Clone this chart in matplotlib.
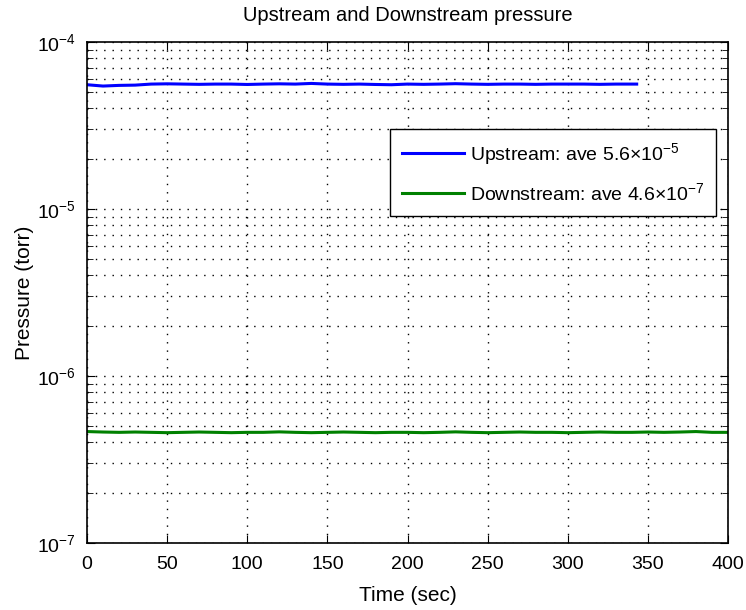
import numpy as np
import matplotlib
matplotlib.use('Agg')
import matplotlib.pyplot as plt
from matplotlib.ticker import LogLocator, NullFormatter, MultipleLocator

plt.rcParams['font.family'] = ['Liberation Sans', 'DejaVu Sans']
plt.rcParams['mathtext.fontset'] = 'custom'
plt.rcParams['mathtext.rm'] = 'Liberation Sans'
plt.rcParams['mathtext.it'] = 'Liberation Sans'

# upstream pressure (torr), sampled every 10 s up to ~343 s
up_time = [0, 10, 20, 30, 40, 50, 60, 70, 80, 90, 100, 110, 120, 130, 140,
           150, 160, 170, 180, 190, 200, 210, 220, 230, 240, 250, 260, 270,
           280, 290, 300, 310, 320, 330, 343]
up_pres = [5.55e-5, 5.45e-5, 5.5e-5, 5.52e-5, 5.6e-5, 5.62e-5, 5.6e-5, 5.58e-5,
           5.6e-5, 5.6e-5, 5.57e-5, 5.6e-5, 5.62e-5, 5.6e-5, 5.65e-5,
           5.6e-5, 5.58e-5, 5.6e-5, 5.57e-5, 5.55e-5, 5.6e-5, 5.58e-5, 5.6e-5,
           5.63e-5, 5.6e-5, 5.58e-5, 5.6e-5, 5.6e-5, 5.58e-5, 5.6e-5,
           5.6e-5, 5.6e-5, 5.58e-5, 5.6e-5, 5.6e-5]

# downstream pressure (torr), sampled every 10 s up to 400 s
down_time = list(range(0, 401, 10))
down_pres = [4.65e-7, 4.62e-7, 4.6e-7, 4.62e-7, 4.6e-7, 4.58e-7, 4.6e-7, 4.62e-7,
             4.6e-7, 4.58e-7, 4.6e-7, 4.6e-7, 4.63e-7, 4.6e-7, 4.58e-7, 4.6e-7,
             4.62e-7, 4.6e-7, 4.58e-7, 4.6e-7, 4.6e-7, 4.58e-7, 4.6e-7, 4.63e-7,
             4.6e-7, 4.58e-7, 4.6e-7, 4.62e-7, 4.6e-7, 4.6e-7, 4.58e-7, 4.6e-7,
             4.62e-7, 4.6e-7, 4.6e-7, 4.62e-7, 4.6e-7, 4.62e-7, 4.65e-7, 4.6e-7,
             4.6e-7]

up_label = r'Upstream: ave 5.6$\times$10$^{-5}$'
down_label = r'Downstream: ave 4.6$\times$10$^{-7}$'

fig = plt.figure(figsize=(7.46, 6.1), dpi=100)
ax = fig.add_axes([0.1166, 0.1098, 0.8593, 0.8213])

ax.plot(up_time, up_pres, color=(0, 0, 1), linewidth=2.2, label=up_label)
ax.plot(down_time, down_pres, color=(0, 0.5, 0), linewidth=2.2, label=down_label)

ax.set_yscale('log')
ax.set_xlim(0, 400)
ax.set_ylim(1e-7, 1e-4)
ax.xaxis.set_major_locator(MultipleLocator(50))
ax.yaxis.set_major_locator(LogLocator(base=10))
ax.yaxis.set_minor_locator(LogLocator(base=10, subs=np.arange(2, 10)))
ax.yaxis.set_minor_formatter(NullFormatter())

dots = (0, (1, 5))
ax.grid(True, which='major', linestyle=dots, color='black', linewidth=1.0)
ax.grid(True, which='minor', axis='y', linestyle=dots, color='black', linewidth=1.0)

ax.tick_params(which='both', direction='in', top=True, right=True, labelsize=14)
ax.tick_params(axis='x', which='major', pad=9)
ax.tick_params(axis='y', which='major', pad=8)
ax.tick_params(which='major', length=6)
ax.tick_params(which='minor', length=4)
for s in ax.spines.values():
    s.set_linewidth(1.2)

ax.set_title('Upstream and Downstream pressure', fontsize=14.5, pad=15)
ax.set_xlabel('Time (sec)', fontsize=15, labelpad=10)
ax.set_ylabel('Pressure (torr)', fontsize=15, labelpad=2)

leg = ax.legend(loc='upper right', bbox_to_anchor=(0.981, 0.826), fontsize=14,
                fancybox=False, framealpha=1, edgecolor='black',
                handlelength=3.2, handletextpad=0.3, borderpad=0.6,
                labelspacing=0.8, borderaxespad=0)
leg.get_frame().set_linewidth(1.0)

fig.savefig('out.png', dpi=100)
